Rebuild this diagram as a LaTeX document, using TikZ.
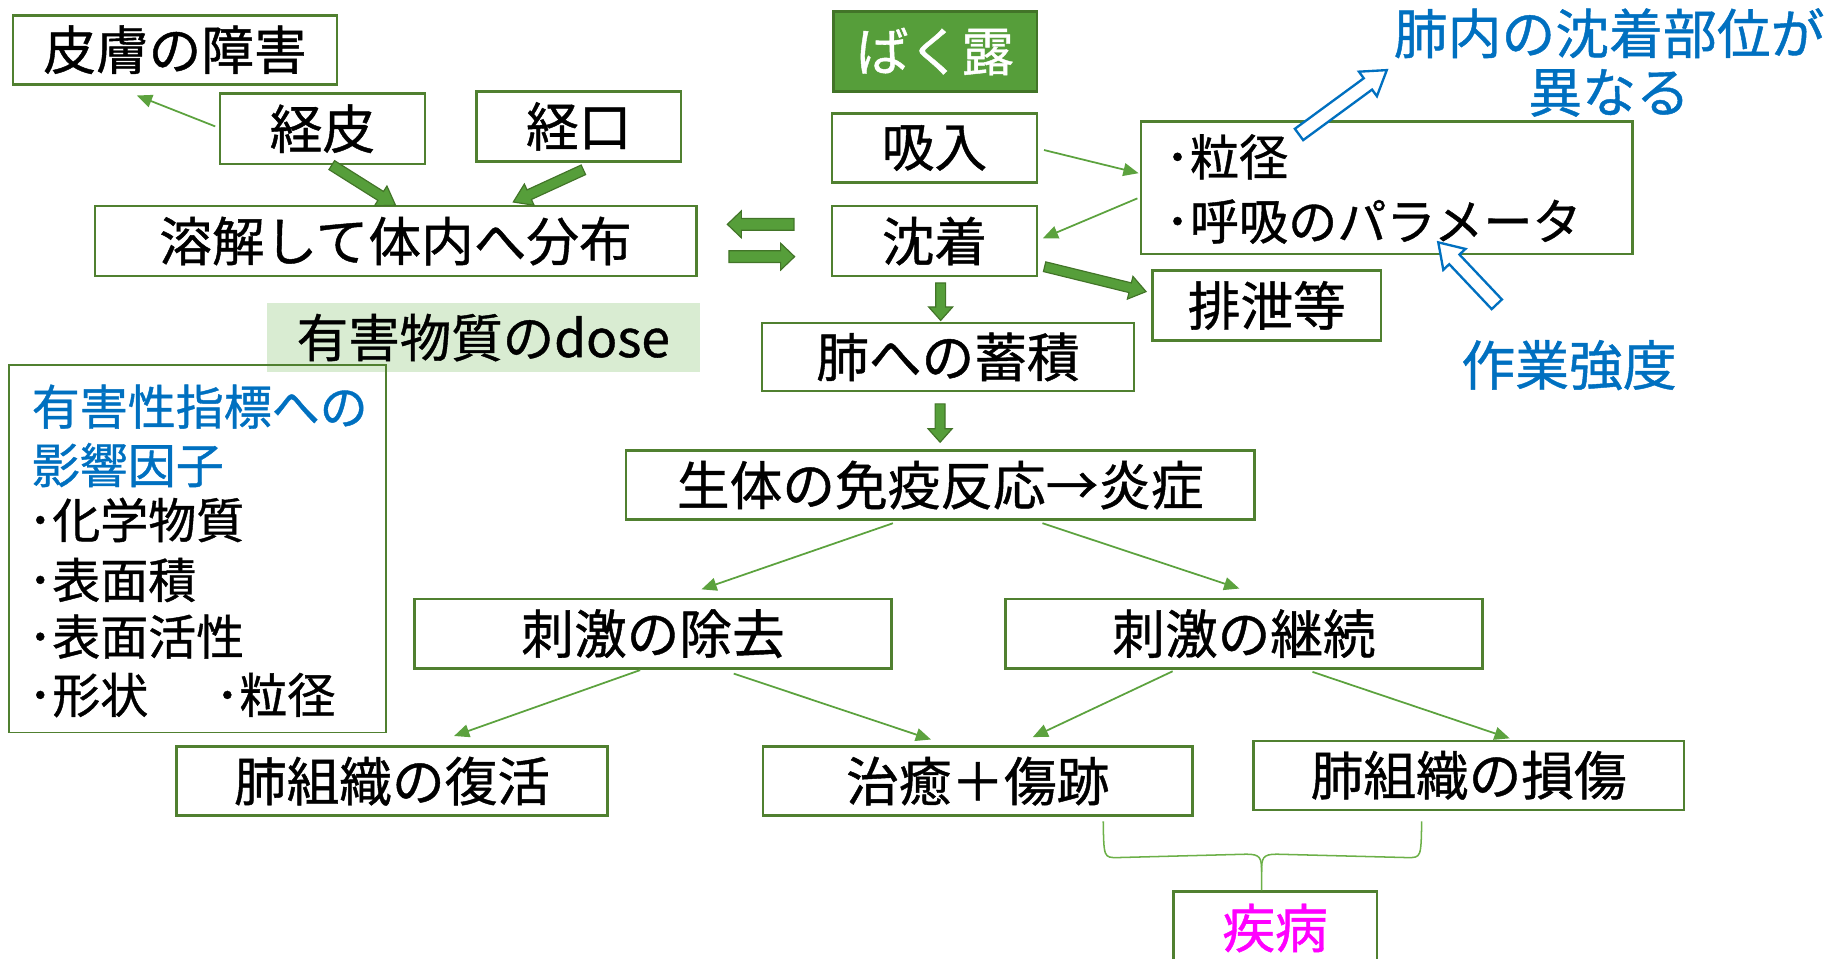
\documentclass[tikz,border=0pt]{standalone}
\usepackage{fontspec}
\setmainfont{Noto Sans CJK JP}[FakeBold=0.8]
\usetikzlibrary{calc,arrows.meta}
\definecolor{bord}{RGB}{80,128,48}
\definecolor{gfill}{RGB}{86,158,58}
\definecolor{gdark}{RGB}{66,116,40}
\definecolor{thinc}{RGB}{92,162,62}
\definecolor{bracec}{RGB}{108,176,72}
\definecolor{bluet}{RGB}{0,112,192}
\definecolor{magt}{RGB}{255,0,255}
\definecolor{dosebg}{RGB}{217,236,210}
% block arrow polygon: #1 tail, #2 tip, #3 shaft half width, #4 head half width, #5 head length, #6 style
\newcommand\blkarrow[6]{%
  \coordinate (ba-B) at ($(#2)!#5!(#1)$);
  \draw[#6] ($(#1)!#3!90:(#2)$) -- ($(ba-B)!#3!-90:(#1)$) -- ($(ba-B)!#4!-90:(#1)$) -- (#2)
    -- ($(ba-B)!#4!90:(#1)$) -- ($(ba-B)!#3!90:(#1)$) -- ($(#1)!#3!-90:(#2)$) -- cycle;}
\begin{document}
\begin{tikzpicture}[x=1pt,y=-1pt,
  box/.style={draw=bord, line width=2.2pt, fill=white, inner sep=0pt, font=\fontsize{45}{50}\selectfont},
  thinarr/.style={draw=thinc, line width=1.5pt, -{Triangle[length=13pt,width=11pt]}},
  blk/.style={fill=gfill, draw=gdark, line width=1pt, line join=miter},
  hollow/.style={fill=white, draw=bluet, line width=2pt, line join=miter},
  bluetxt/.style={text=bluet, inner sep=0pt, font=\fontsize{46}{50}\selectfont},
  lefttxt/.style={inner sep=0pt, anchor=west, font=\fontsize{41}{45}\selectfont},
  paramtxt/.style={inner sep=0pt, anchor=west, font=\fontsize{42}{46}\selectfont}]
\useasboundingbox (0,0) rectangle (1568,819);
\clip (0,0) rectangle (1568,819);

% dose background
\node[fill=dosebg, minimum width=370pt, minimum height=59pt, inner sep=0pt,
      font=\fontsize{44}{50}\selectfont] (dose) at (413,288.5) {有害物質のdose};

% boxes
\node[box, minimum width=277pt, minimum height=59pt] (hifu) at (149.5,42.5) {皮膚の障害};
\node[box, minimum width=175pt, minimum height=60pt] (keihi) at (275.5,110) {経皮};
\node[box, minimum width=175pt, minimum height=60pt] (keiko) at (494.5,108) {経口};
\node[box, minimum width=514pt, minimum height=60pt] (youkai) at (338,206) {溶解して体内へ分布};
\node[box, fill=gfill, draw=gdark, text=white, minimum width=174pt, minimum height=68pt] (bakuro) at (799,44) {ばく露};
\node[box, minimum width=175pt, minimum height=59pt] (kyunyu) at (798.5,126.5) {吸入};
\node[box, minimum width=175pt, minimum height=60pt] (chaku) at (798.5,206) {沈着};
\node[box, minimum width=420pt, minimum height=113pt] (param) at (1185,160.5) {};
\node[paramtxt] (p1) at (995.5,134) {･粒径};
\node[paramtxt] (p2) at (995.5,189.4) {･呼吸のパラメータ};
\node[box, minimum width=195pt, minimum height=60pt] (haisetsu) at (1082.5,261) {排泄等};
\node[box, minimum width=318pt, minimum height=58pt] (chikuseki) at (810,305) {肺への蓄積};
\node[box, minimum width=537pt, minimum height=59pt] (seitai) at (803.5,414.5) {生体の免疫反応→炎症};
\node[box, minimum width=408pt, minimum height=59pt] (jokyo) at (558,541.5) {刺激の除去};
\node[box, minimum width=408pt, minimum height=59pt] (keizoku) at (1063,541.5) {刺激の継続};
\node[box, minimum width=368pt, minimum height=59pt] (fukkatsu) at (335,667.5) {肺組織の復活};
\node[box, minimum width=367pt, minimum height=59pt] (chiyu) at (835.5,667.5) {治癒＋傷跡};
\node[box, minimum width=368pt, minimum height=59pt] (sonsho) at (1255,662.5) {肺組織の損傷};
\node[box, text=magt, minimum width=174pt, minimum height=62pt] (shippei) at (1089.5,793) {疾病};

% left factor box
\node[draw=bord, line width=1.5pt, minimum width=322pt, minimum height=314pt, inner sep=0pt] (factor) at (169,469) {};
\node[lefttxt, text=bluet] (l1) at (27,347.5) {有害性指標への};
\node[lefttxt, text=bluet] (l2) at (27,397.4) {影響因子};
\node[lefttxt] (l3) at (24,444.3) {･化学物質};
\node[lefttxt] (l4) at (24,495.6) {･表面積};
\node[lefttxt] (l5) at (24,544) {･表面活性};
\node[lefttxt] (l6) at (24,593.9) {･形状\hspace{1.4em}･粒径};

% blue labels
\node[bluetxt, align=center] (title) at (1375,53.4) {肺内の沈着部位が\\異なる};
\node[bluetxt] (sagyo) at (1340.7,312) {作業強度};

% thin arrows
\draw[thinarr] ($(keihi.west)+(-3,-2)$) -- ($(hifu.south)+(-32.5,8.5)$);
\draw[thinarr] ($(kyunyu.east)+(5,1.7)$) -- ($(param.west)+(-1,-12.5)$);
\draw[thinarr] ($(param.west)+(-2,9)$) -- ($(chaku.east)+(4,-2.4)$);
\draw[thinarr] ($(seitai.south)+(-40.5,2)$) -- ($(jokyo.north)+(41.4,-7.3)$);
\draw[thinarr] ($(seitai.south)+(87.3,2)$) -- ($(keizoku.north)+(-4,-8)$);
\draw[thinarr] ($(jokyo.south)+(-11,0.5)$) -- ($(fukkatsu.north)+(53,-8)$);
\draw[thinarr] ($(jokyo.south)+(69,3.5)$) -- ($(chiyu.north)+(-40,-5)$);
\draw[thinarr] ($(keizoku.south)+(-61,1.5)$) -- ($(chiyu.north)+(47,-7)$);
\draw[thinarr] ($(keizoku.south)+(58.5,2)$) -- ($(sonsho.north)+(35,-1)$);

% block arrows
\coordinate (a1t) at ($(keihi.south)+(8,0)$);
\coordinate (a1h) at ($(youkai.north)+(0,0.5)$);
\blkarrow{a1t}{a1h}{4.5pt}{10pt}{15pt}{blk}
\coordinate (a2t) at ($(keiko.south)+(4,6)$);
\coordinate (a2h) at ($(youkai.north)+(100.6,-2.3)$);
\blkarrow{a2t}{a2h}{4.5pt}{10pt}{15pt}{blk}
\coordinate (a3t) at ($(youkai.east)+(82.3,-14.3)$);
\coordinate (a3h) at ($(youkai.east)+(25.4,-14.3)$);
\blkarrow{a3t}{a3h}{5pt}{11.5pt}{12pt}{blk}
\coordinate (a4t) at ($(youkai.east)+(26.8,13.3)$);
\coordinate (a4h) at ($(youkai.east)+(82.9,13.3)$);
\blkarrow{a4t}{a4h}{5pt}{11.5pt}{12pt}{blk}
\coordinate (a5t) at ($(chaku.south)+(5.3,4.7)$);
\coordinate (a5h) at ($(chikuseki.north)+(-6.2,-1.1)$);
\blkarrow{a5t}{a5h}{4.25pt}{10.25pt}{11.5pt}{blk}
\coordinate (a6t) at ($(chikuseki.south)+(-6.7,10)$);
\coordinate (a6h) at ($(seitai.north)+(-0.2,-6)$);
\blkarrow{a6t}{a6h}{4.25pt}{10.25pt}{11.5pt}{blk}
\coordinate (a7t) at ($(chaku.east)+(5.5,21.9)$);
\coordinate (a7h) at ($(haisetsu.west)+(-4.6,-11.8)$);
\blkarrow{a7t}{a7h}{4.25pt}{10pt}{14pt}{blk}

% hollow blue arrows
\coordinate (h1t) at ($(param.north)+(-75,12)$);
\coordinate (h1h) at ($(param.north)+(0,-43)$);
\blkarrow{h1t}{h1h}{6pt}{13pt}{20pt}{hollow}
\coordinate (h2t) at ($(sagyo.center)+(-61.7,-52)$);
\coordinate (h2h) at ($(param.south)+(44,-11)$);
\blkarrow{h2t}{h2h}{6pt}{13pt}{20pt}{hollow}

% brace
\coordinate (brL) at ($(chiyu.south east)+(-77.4,3.7)$);
\coordinate (brR) at ($(sonsho.south)+(-40.2,8.7)$);
\coordinate (brT) at ($(shippei.north)+(-11.5,0)$);
\draw[bracec, line width=1.3pt] (brL) .. controls ($(brL)+(0.5,31)$) and ($(brL)+(0.5,31)$) .. ($(brL)+(12,31)$)
  -- ($(brT)+(-13,-31)$) .. controls ($(brT)+(-1,-31)$) and ($(brT)+(0,-28)$) .. ($(brT)+(0,-16)$) -- (brT);
\draw[bracec, line width=1.3pt] (brR) .. controls ($(brR)+(-0.5,31)$) and ($(brR)+(-0.5,31)$) .. ($(brR)+(-12,31)$)
  -- ($(brT)+(13,-31)$) .. controls ($(brT)+(1,-31)$) and ($(brT)+(0,-28)$) .. ($(brT)+(0,-16)$);
\end{tikzpicture}
\end{document}
